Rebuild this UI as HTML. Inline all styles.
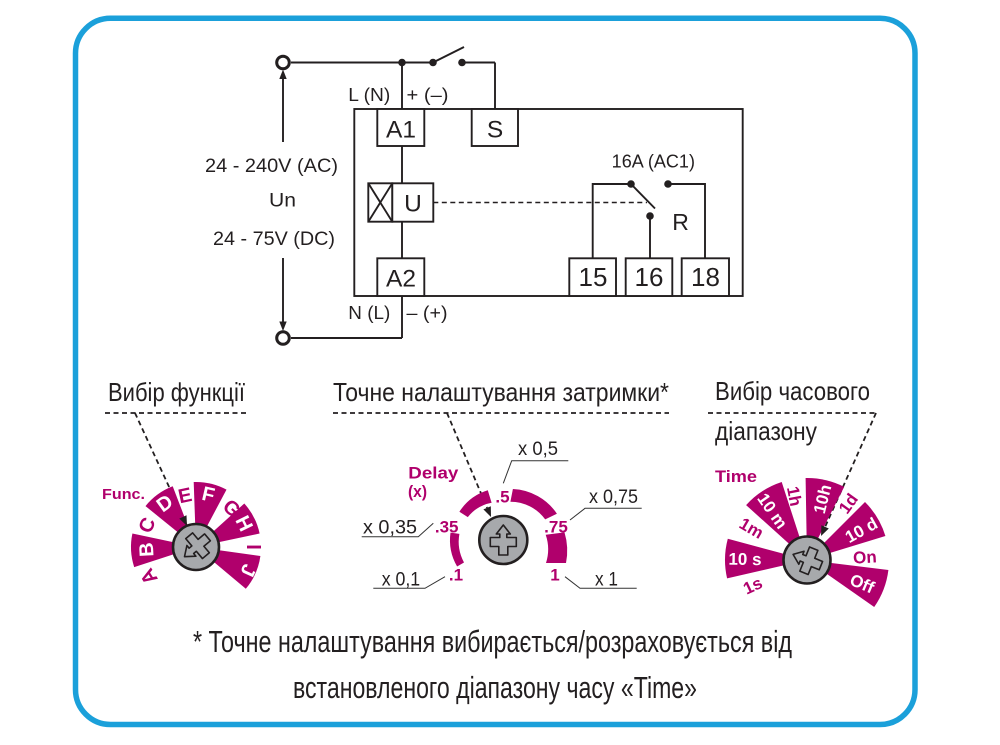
<!DOCTYPE html>
<html>
<head>
<meta charset="utf-8">
<style>
html,body{margin:0;padding:0;background:#fff;}
svg{display:block;}
</style>
</head>
<body>
<svg width="1000" height="745" viewBox="0 0 1000 745" xmlns="http://www.w3.org/2000/svg" font-family="'Liberation Sans', sans-serif">
<rect x="0" y="0" width="1000" height="745" fill="#fff"/>
<!-- Frame -->
<rect x="75.5" y="18.3" width="839.5" height="706.2" rx="35" ry="35" fill="none" stroke="#1ba0da" stroke-width="5.5"/>

<!-- ===== Circuit ===== -->
<g stroke="#231f20" stroke-width="1.9" fill="none">
  <rect x="354.3" y="109" width="388.4" height="187"/>
  <line x1="291" y1="62.5" x2="433" y2="62.5"/>
  <line x1="462" y1="62.5" x2="495" y2="62.5"/>
  <line x1="495" y1="62.5" x2="495" y2="109"/>
  <line x1="433" y1="62.5" x2="464" y2="47"/>
  <line x1="402" y1="62.5" x2="402" y2="109"/>
  <rect x="377.3" y="109" width="47" height="37" fill="#fff"/>
  <rect x="471.7" y="109" width="46.3" height="37" fill="#fff"/>
  <line x1="402" y1="146" x2="402" y2="183.3"/>
  <rect x="368.3" y="183.3" width="24" height="38.4" fill="#fff"/>
  <line x1="368.3" y1="183.3" x2="392.3" y2="221.7"/>
  <line x1="392.3" y1="183.3" x2="368.3" y2="221.7"/>
  <rect x="392.3" y="183.3" width="41" height="38.4" fill="#fff"/>
  <line x1="402" y1="221.7" x2="402" y2="258.3"/>
  <rect x="377.3" y="258.3" width="47" height="37.7" fill="#fff"/>
  <line x1="402" y1="296" x2="402" y2="338"/>
  <line x1="402" y1="338" x2="291" y2="338"/>
  <line x1="433.3" y1="202.5" x2="647" y2="202.5" stroke-dasharray="5 3.5" stroke-width="1.6"/>
  <polyline points="592.7,258 592.7,184 631,184"/>
  <line x1="631" y1="184" x2="655" y2="208.5"/>
  <line x1="650" y1="216" x2="650" y2="258"/>
  <polyline points="668,184 705,184 705,258"/>
  <rect x="569.3" y="258.3" width="46.7" height="37.7" fill="#fff"/>
  <rect x="625.7" y="258.3" width="46.6" height="37.7" fill="#fff"/>
  <rect x="681.7" y="258.3" width="47.3" height="37.7" fill="#fff"/>
  <line x1="283" y1="77" x2="283" y2="142"/>
  <line x1="283" y1="258" x2="283" y2="323"/>
  <circle cx="283" cy="62.5" r="6.3" stroke-width="3"/>
  <circle cx="283" cy="338" r="6.3" stroke-width="3"/>
</g>
<g fill="#231f20">
  <polygon points="283,69.5 279.3,79 286.7,79"/>
  <polygon points="283,331 279.3,321.5 286.7,321.5"/>
  <circle cx="402" cy="62.5" r="3.8"/>
  <circle cx="433" cy="62.5" r="3.8"/>
  <circle cx="462" cy="62.5" r="3.8"/>
  <circle cx="631" cy="184" r="3.8"/>
  <circle cx="668" cy="184" r="3.8"/>
  <circle cx="650" cy="216" r="3.8"/>
</g>
<g fill="#231f20">
  <text x="348.3" y="101" font-size="18" textLength="42" lengthAdjust="spacingAndGlyphs">L (N)</text>
  <text x="406.5" y="101" font-size="18" textLength="42" lengthAdjust="spacingAndGlyphs">+ (–)</text>
  <text x="348.3" y="319" font-size="18" textLength="42" lengthAdjust="spacingAndGlyphs">N (L)</text>
  <text x="406.5" y="319" font-size="18" textLength="41" lengthAdjust="spacingAndGlyphs">– (+)</text>
  <text x="205" y="172" font-size="19.5" textLength="133" lengthAdjust="spacingAndGlyphs">24 - 240V (AC)</text>
  <text x="269" y="206.5" font-size="19.5" textLength="27" lengthAdjust="spacingAndGlyphs">Un</text>
  <text x="213" y="245" font-size="19.5" textLength="122" lengthAdjust="spacingAndGlyphs">24 - 75V (DC)</text>
  <text x="611.7" y="167.3" font-size="18" textLength="83.3" lengthAdjust="spacingAndGlyphs">16A (AC1)</text>
  <text x="680.5" y="230" font-size="23" text-anchor="middle">R</text>
  <text x="401" y="137.5" font-size="24.5" text-anchor="middle">A1</text>
  <text x="495" y="137.5" font-size="24.5" text-anchor="middle">S</text>
  <text x="413" y="211.5" font-size="24.5" text-anchor="middle">U</text>
  <text x="401" y="286.5" font-size="24.5" text-anchor="middle">A2</text>
  <text x="593" y="286" font-size="26" text-anchor="middle">15</text>
  <text x="649" y="286" font-size="26" text-anchor="middle">16</text>
  <text x="705.5" y="286" font-size="26" text-anchor="middle">18</text>
</g>

<!-- ===== Headings ===== -->
<g fill="#231f20" font-size="26">
  <text x="108" y="401" textLength="137" lengthAdjust="spacingAndGlyphs">Вибір функції</text>
  <text x="333" y="401" textLength="336" lengthAdjust="spacingAndGlyphs">Точне налаштування затримки*</text>
  <text x="715" y="400" textLength="155" lengthAdjust="spacingAndGlyphs">Вибір часового</text>
  <text x="715" y="440" textLength="102" lengthAdjust="spacingAndGlyphs">діапазону</text>
</g>
<g stroke="#231f20" stroke-width="1.8" stroke-dasharray="5 3.5" fill="none">
  <line x1="105" y1="413" x2="246" y2="413"/>
  <line x1="333" y1="413" x2="669" y2="413"/>
  <line x1="708" y1="413" x2="876" y2="413"/>
  <line x1="135" y1="413" x2="182.9" y2="516.9"/>
  <line x1="447" y1="413" x2="487.1" y2="507.8"/>
  <line x1="876" y1="413" x2="825.1" y2="526.9"/>
</g>

<!-- ===== Left dial ===== -->
<g fill="#b0006c">
  <path d="M196,547 L134.2,567.1 A65,65 0 0 1 132.4,533.5 Z"/>
  <path d="M196,547 L145.5,506.1 A65,65 0 0 1 172.7,486.3 Z"/>
  <path d="M196,547 L193.7,482.0 A65,65 0 0 1 226.5,489.6 Z"/>
  <path d="M196,547 L244.3,503.5 A65,65 0 0 1 259.6,533.5 Z"/>
  <path d="M196,547 L260.4,556.0 A65,65 0 0 1 245.8,588.8 Z"/>
</g>
<g font-size="20" font-weight="bold" text-anchor="middle">
  <text transform="translate(148.5,576.7) rotate(238)" dy="7" fill="#b0006c">A</text>
  <text transform="translate(146.1,549.6) rotate(267)" dy="7" fill="#fff">B</text>
  <text transform="translate(146.7,525) rotate(294)" dy="7" fill="#b0006c">C</text>
  <text transform="translate(164.5,503) rotate(324)" dy="7" fill="#fff">D</text>
  <text transform="translate(185,495.2) rotate(348)" dy="7" fill="#b0006c">E</text>
  <text transform="translate(208.4,494) rotate(13)" dy="7" fill="#fff">F</text>
  <text transform="translate(232,508) rotate(42)" dy="7" fill="#b0006c">G</text>
  <text transform="translate(244.5,523.3) rotate(64)" dy="7" fill="#fff">H</text>
  <text transform="translate(254,547) rotate(90)" dy="7" fill="#b0006c">I</text>
  <text transform="translate(248.5,570.5) rotate(114)" dy="7" fill="#fff">J</text>
</g>
<text x="102" y="499" font-size="14.5" font-weight="bold" fill="#b0006c" textLength="43" lengthAdjust="spacingAndGlyphs">Func.</text>
<polygon points="187,526 179.3,518.6 186.5,515.2" fill="#231f20"/>
<circle cx="196" cy="547" r="23" fill="#a7a9ac" stroke="#231f20" stroke-width="2.6"/>
<path transform="translate(196,547) rotate(-130)" d="M0,-15 L7,-6 L3.5,-6 L3.5,-2.5 L13,-2.5 L13,6.5 L4.5,6.5 L4.5,15 L-4.5,15 L-4.5,6.5 L-13,6.5 L-13,-2.5 L-3.5,-2.5 L-3.5,-6 L-7,-6 Z" fill="none" stroke="#231f20" stroke-width="1.6" stroke-linejoin="round"/>

<!-- ===== Middle dial ===== -->
<g fill="#b0006c">
  <path d="M457.1,566.5 A53,53 0 0 1 450.5,532.6 L459.4,533.9 A44,44 0 0 0 464.0,562.5 Z"/>
  <path d="M459.4,511.7 A52,52 0 0 1 487.8,490.3 L491.6,502.7 A40,40 0 0 0 467.8,517.1 Z"/>
  <path d="M512.9,489.0 A56,56 0 0 1 556.9,513.7 L545.2,519.4 A43,43 0 0 0 510.4,501.7 Z"/>
  <path d="M564.5,532.4 A63,63 0 0 1 566,563 L546,563 A45,45 0 0 0 545.7,534.8 Z"/>
</g>
<g font-size="17" font-weight="bold" fill="#b0006c" text-anchor="middle">
  <text x="446.7" y="532.5">.35</text>
  <text x="502.5" y="502.5">.5</text>
  <text x="556" y="532.5">.75</text>
  <text x="456" y="580.5">.1</text>
  <text x="555" y="580.5">1</text>
</g>
<text x="408.3" y="478.3" font-size="17" font-weight="bold" fill="#b0006c" textLength="50" lengthAdjust="spacingAndGlyphs">Delay</text>
<text x="408" y="497" font-size="17" font-weight="bold" fill="#b0006c" textLength="19" lengthAdjust="spacingAndGlyphs">(x)</text>
<g stroke="#333" stroke-width="1" fill="none">
  <polyline points="503.3,483.3 511.7,460.7 568.3,460.7"/>
  <polyline points="570,520 585,508.3 641.7,508.3"/>
  <polyline points="361.7,536.7 418.3,536.7 433.3,523.3"/>
  <polyline points="373.3,588.3 425,588.3 445,576.7"/>
  <polyline points="565,576.7 580,588.3 636.7,588.3"/>
</g>
<g fill="#231f20" font-size="19">
  <text x="518" y="455" textLength="40" lengthAdjust="spacingAndGlyphs">x 0,5</text>
  <text x="589" y="503" textLength="49" lengthAdjust="spacingAndGlyphs">x 0,75</text>
  <text x="363" y="533.5" textLength="54" lengthAdjust="spacingAndGlyphs">x 0,35</text>
  <text x="381.7" y="585.5" textLength="38.5" lengthAdjust="spacingAndGlyphs">x 0,1</text>
  <text x="595" y="585.5" textLength="23" lengthAdjust="spacingAndGlyphs">x 1</text>
</g>
<polygon points="491,517 483.4,509.4 490.8,506.2" fill="#231f20"/>
<circle cx="503.3" cy="540" r="24" fill="#a7a9ac" stroke="#231f20" stroke-width="2.6"/>
<path transform="translate(503.3,540)" d="M0,-15 L7,-6 L3.5,-6 L3.5,-2.5 L13,-2.5 L13,6.5 L4.5,6.5 L4.5,15 L-4.5,15 L-4.5,6.5 L-13,6.5 L-13,-2.5 L-3.5,-2.5 L-3.5,-6 L-7,-6 Z" fill="none" stroke="#231f20" stroke-width="1.6" stroke-linejoin="round"/>

<!-- ===== Right dial ===== -->
<g fill="#b0006c">
  <path d="M807,560 L727.1,578.4 A82,82 0 0 1 727.8,538.8 Z"/>
  <path d="M807,560 L746.1,505.1 A82,82 0 0 1 781.7,482.0 Z"/>
  <path d="M807,560 L805.6,478.0 A82,82 0 0 1 844.2,486.9 Z"/>
  <path d="M807,560 L865.0,502.0 A82,82 0 0 1 885.4,536.0 Z"/>
  <path d="M807,560 L888.4,570.0 A82,82 0 0 1 874.2,607.0 Z"/>
</g>
<g font-size="17" font-weight="bold" text-anchor="middle">
  <text transform="translate(752.6,585.4) rotate(-25)" dy="6" fill="#b0006c">1s</text>
  <text transform="translate(745,558.9) rotate(1)" dy="6" fill="#fff">10 s</text>
  <text transform="translate(751.6,528) rotate(30)" dy="6" fill="#b0006c">1m</text>
  <text transform="translate(772.6,510.8) rotate(55)" dy="6" fill="#fff">10 m</text>
  <text transform="translate(794.6,496.2) rotate(79)" dy="6" fill="#b0006c">1h</text>
  <text transform="translate(822.2,499) rotate(-76)" dy="6" fill="#fff">10h</text>
  <text transform="translate(848.1,503.4) rotate(-54)" dy="6" fill="#b0006c">1d</text>
  <text transform="translate(861.2,529.9) rotate(-29)" dy="6" fill="#fff">10 d</text>
  <text transform="translate(864.9,557) rotate(-3)" dy="6" fill="#b0006c">On</text>
  <text transform="translate(862.2,583.4) rotate(23)" dy="6" fill="#fff">Off</text>
</g>
<text x="715" y="482" font-size="16.5" font-weight="bold" fill="#b0006c" textLength="42" lengthAdjust="spacingAndGlyphs">Time</text>
<polygon points="821,536 821.4,525.3 828.8,528.5" fill="#231f20"/>
<circle cx="807" cy="560" r="23.5" fill="#a7a9ac" stroke="#231f20" stroke-width="2.6"/>
<path transform="translate(807,560) rotate(-68)" d="M0,-15 L7,-6 L3.5,-6 L3.5,-2.5 L13,-2.5 L13,6.5 L4.5,6.5 L4.5,15 L-4.5,15 L-4.5,6.5 L-13,6.5 L-13,-2.5 L-3.5,-2.5 L-3.5,-6 L-7,-6 Z" fill="none" stroke="#231f20" stroke-width="1.6" stroke-linejoin="round"/>

<!-- ===== Footnote ===== -->
<g fill="#231f20" font-size="31">
  <text x="193" y="652" textLength="599" lengthAdjust="spacingAndGlyphs">* Точне налаштування вибирається/розраховується від</text>
  <text x="293" y="698" textLength="404" lengthAdjust="spacingAndGlyphs">встановленого діапазону часу «Time»</text>
</g>
</svg>
</body>
</html>
